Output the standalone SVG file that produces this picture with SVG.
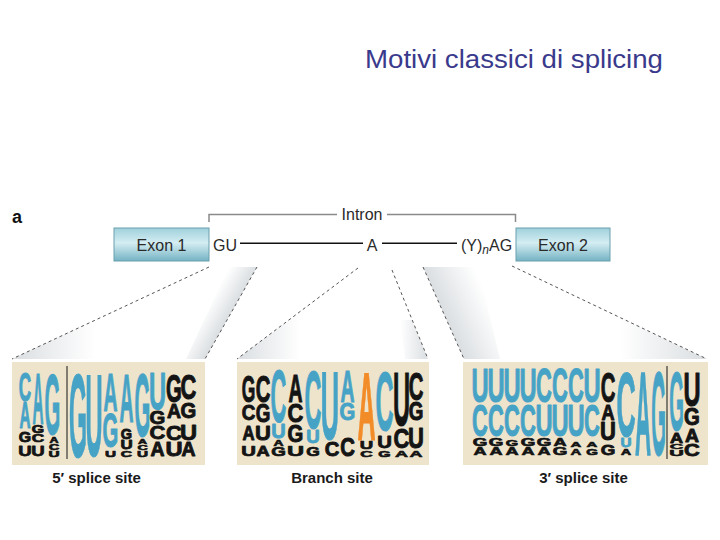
<svg xmlns="http://www.w3.org/2000/svg" width="720" height="540" viewBox="0 0 720 540">
<defs>
<style>
.lg text{font-family:"Liberation Sans",Arial,sans-serif;font-weight:bold;font-size:10px;text-anchor:middle;stroke-width:0.9;vector-effect:non-scaling-stroke;stroke-linejoin:round}
.b{fill:#47a3c6;stroke:#47a3c6}.k{fill:#141414;stroke:#141414}.o{fill:#f28c28;stroke:#f28c28}
.lbl{font-family:"Liberation Sans",Arial,sans-serif;font-size:16px;fill:#2a2a2a}
.cap{font-family:"Liberation Sans",Arial,sans-serif;font-weight:bold;font-size:15px;fill:#1a1a1a;text-anchor:middle}
.dash{stroke:#555;stroke-width:1;stroke-dasharray:3 3;fill:none}
.pane{fill:#eee4cc}
</style>
<linearGradient id="exg" x1="0" y1="0" x2="0" y2="1">
<stop offset="0" stop-color="#9fd0dc"/><stop offset="0.45" stop-color="#d4edf2"/><stop offset="1" stop-color="#74b3c3"/>
</linearGradient>
<linearGradient id="gR" x1="1" y1="0" x2="0" y2="0"><stop offset="0" stop-color="#dadee1"/><stop offset="1" stop-color="#dadee1" stop-opacity="0"/></linearGradient>
<linearGradient id="gL" x1="0" y1="0" x2="1" y2="0"><stop offset="0" stop-color="#dadee1"/><stop offset="1" stop-color="#dadee1" stop-opacity="0"/></linearGradient>
<linearGradient id="gS1" gradientUnits="userSpaceOnUse" x1="231" y1="313" x2="210" y2="301"><stop offset="0" stop-color="#dadee1"/><stop offset="1" stop-color="#dadee1" stop-opacity="0"/></linearGradient>
<linearGradient id="gS4" gradientUnits="userSpaceOnUse" x1="443" y1="313" x2="486" y2="294"><stop offset="0" stop-color="#dadee1"/><stop offset="1" stop-color="#dadee1" stop-opacity="0"/></linearGradient>
</defs>
<rect width="720" height="540" fill="#ffffff"/>

<g id="title"><text x="365" y="68" font-family="Liberation Sans, Arial, sans-serif" font-size="26" fill="#3a3a8c" textLength="298" lengthAdjust="spacingAndGlyphs">Motivi classici di splicing</text></g>

<g id="panel-label"><text x="12" y="223" font-family="Liberation Sans, Arial, sans-serif" font-weight="bold" font-size="18" fill="#111">a</text></g>

<g id="shading">
<polygon points="229,267 257,267 205,359 186,359" fill="url(#gS1)"/>
<polygon points="12,359 95,320 95,359" fill="url(#gL)"/>
<polygon points="237,359 300,312 300,359" fill="url(#gL)"/>
<polygon points="400,320 412,320 428,359 405,359" fill="url(#gR)"/>
<polygon points="423,267 478,267 500,359 464,359" fill="url(#gS4)"/>
<polygon points="620,318 707,359 620,359" fill="url(#gR)"/>
</g>

<g id="connectors">
<line class="dash" x1="209" y1="267" x2="12" y2="359"/>
<line class="dash" x1="257" y1="267" x2="205" y2="359"/>
<line class="dash" x1="358" y1="268" x2="237" y2="359"/>
<line class="dash" x1="392" y1="270" x2="428" y2="359"/>
<line class="dash" x1="423" y1="267" x2="464" y2="359"/>
<line class="dash" x1="512" y1="266" x2="707" y2="359"/>
<path d="M209,222 V214.5 H337 M387,214.5 H515.5 V222" fill="none" stroke="#8a8a8a" stroke-width="1.5"/>
<line x1="240" y1="243.3" x2="363" y2="243.3" stroke="#111" stroke-width="1.6"/>
<line x1="382" y1="243.3" x2="457" y2="243.3" stroke="#111" stroke-width="1.6"/>
</g>

<g id="exon1">
<rect x="114" y="228" width="95" height="33" fill="url(#exg)" stroke="#6a9fad" stroke-width="1"/>
<text class="lbl" x="161.5" y="251" text-anchor="middle">Exon 1</text>
</g>
<g id="intron">
<text class="lbl" x="362" y="220" text-anchor="middle">Intron</text>
<text class="lbl" x="225" y="251" text-anchor="middle">GU</text>
<text class="lbl" x="372" y="251" text-anchor="middle">A</text>
<text class="lbl" x="461" y="251">(Y)<tspan font-style="italic" font-size="12" dy="3">n</tspan><tspan dy="-3">AG</tspan></text>
</g>
<g id="exon2">
<rect x="516" y="228" width="94" height="33" fill="url(#exg)" stroke="#6a9fad" stroke-width="1"/>
<text class="lbl" x="563" y="251" text-anchor="middle">Exon 2</text>
</g>

<g id="logo-5ss" class="lg">
<rect class="pane" x="12" y="362" width="193" height="103"/>
<line x1="67" y1="366" x2="67" y2="459" stroke="#141414" stroke-width="1"/>
<text class="b" transform="translate(25 401) scale(1.72 4.03)">C</text>
<text class="b" transform="translate(25 428) scale(1.53 3.61)">A</text>
<text class="k" transform="translate(25 442) scale(1.59 1.53)">G</text>
<text class="k" transform="translate(25 456) scale(1.86 1.53)">U</text>
<text class="b" transform="translate(38 424) scale(1.53 7.22)">A</text>
<text class="k" transform="translate(38 433) scale(1.59 1.11)">G</text>
<text class="k" transform="translate(38 442) scale(1.72 1.11)">C</text>
<text class="k" transform="translate(38 456) scale(1.86 1.53)">U</text>
<text class="b" transform="translate(52.5 434) scale(2.03 8.61)">G</text>
<text class="k" transform="translate(54 443) scale(1.25 0.83)">A</text>
<text class="k" transform="translate(54 450) scale(1.41 0.83)">C</text>
<text class="k" transform="translate(54 457) scale(1.53 0.83)">U</text>
<text class="b" transform="translate(78 457) scale(2.32 11.8)">G</text>
<text class="b" transform="translate(94 456) scale(2.37 11.67)">U</text>
<text class="b" transform="translate(110.5 411) scale(1.94 5.42)">A</text>
<text class="b" transform="translate(110.5 447) scale(2.03 4.86)">G</text>
<text class="k" transform="translate(110.5 457) scale(1.53 0.97)">U</text>
<text class="b" transform="translate(126.5 422) scale(1.94 6.94)">A</text>
<text class="k" transform="translate(126.5 439) scale(1.45 1.53)">G</text>
<text class="k" transform="translate(126.5 449) scale(1.69 1.25)">U</text>
<text class="k" transform="translate(126.5 457) scale(1.56 0.97)">C</text>
<text class="b" transform="translate(142.5 436) scale(2.03 8.89)">G</text>
<text class="k" transform="translate(142.5 444) scale(1.25 0.69)">A</text>
<text class="k" transform="translate(142.5 450) scale(1.41 0.69)">C</text>
<text class="k" transform="translate(142.5 457) scale(1.53 0.83)">U</text>
<text class="b" transform="translate(157.5 409) scale(2.37 5.14)">U</text>
<text class="k" transform="translate(157.5 424) scale(2.03 1.81)">G</text>
<text class="k" transform="translate(157.5 439) scale(2.19 1.81)">C</text>
<text class="k" transform="translate(157.5 456) scale(1.94 1.94)">A</text>
<text class="k" transform="translate(174 402) scale(2.03 3.89)">G</text>
<text class="k" transform="translate(174 418) scale(1.94 1.94)">A</text>
<text class="k" transform="translate(174 440) scale(2.19 2.08)">C</text>
<text class="k" transform="translate(174 456) scale(2.37 1.94)">U</text>
<text class="k" transform="translate(188.5 399) scale(2.19 3.47)">C</text>
<text class="k" transform="translate(188.5 418) scale(2.03 2.22)">G</text>
<text class="k" transform="translate(188.5 440) scale(2.37 2.22)">U</text>
<text class="k" transform="translate(188.5 456) scale(1.94 1.94)">A</text>
</g>

<g id="logo-branch" class="lg">
<rect class="pane" x="237" y="362" width="192" height="103"/>
<text class="k" transform="translate(248.5 402) scale(1.74 3.75)">G</text>
<text class="k" transform="translate(248.5 420) scale(1.88 2.22)">C</text>
<text class="k" transform="translate(248.5 440) scale(1.67 2.08)">A</text>
<text class="k" transform="translate(248.5 456) scale(2.03 1.39)">U</text>
<text class="k" transform="translate(263 402) scale(2.03 3.75)">C</text>
<text class="k" transform="translate(263 422) scale(1.88 2.5)">G</text>
<text class="k" transform="translate(263 440) scale(2.2 2.08)">U</text>
<text class="k" transform="translate(263 456) scale(1.81 1.39)">A</text>
<text class="b" transform="translate(278.5 422) scale(2.19 7.36)">C</text>
<text class="b" transform="translate(278.5 438) scale(2.0 2.08)">U</text>
<text class="k" transform="translate(278.5 446) scale(1.39 0.83)">A</text>
<text class="k" transform="translate(278.5 456) scale(1.88 1.25)">G</text>
<text class="k" transform="translate(295.5 402) scale(1.94 3.89)">A</text>
<text class="k" transform="translate(295.5 422) scale(2.19 2.5)">C</text>
<text class="k" transform="translate(295.5 442) scale(2.03 2.36)">G</text>
<text class="k" transform="translate(295.5 456) scale(2.37 1.39)">U</text>
<text class="b" transform="translate(313 428) scale(2.34 8.19)">C</text>
<text class="b" transform="translate(313 443) scale(1.86 1.81)">U</text>
<text class="k" transform="translate(313 456) scale(1.74 1.25)">G</text>
<text class="b" transform="translate(330 439) scale(2.54 9.72)">U</text>
<text class="k" transform="translate(332 456) scale(2.03 2.08)">C</text>
<text class="b" transform="translate(347.5 402) scale(1.94 4.44)">A</text>
<text class="b" transform="translate(347.5 420) scale(2.03 2.36)">G</text>
<text class="k" transform="translate(347.5 456) scale(2.03 2.6)">C</text>
<text class="o" transform="translate(366.5 440) scale(2.5 9.72)">A</text>
<text class="k" transform="translate(366.5 449) scale(1.86 1.11)">U</text>
<text class="k" transform="translate(366.5 457) scale(1.72 0.97)">C</text>
<text class="b" transform="translate(384.5 430) scale(2.5 8.33)">C</text>
<text class="k" transform="translate(384.5 448) scale(2.03 1.67)">U</text>
<text class="k" transform="translate(384.5 457) scale(1.59 0.97)">G</text>
<text class="k" transform="translate(401.5 425) scale(2.37 7.64)">U</text>
<text class="k" transform="translate(401.5 448) scale(2.19 2.78)">C</text>
<text class="k" transform="translate(401.5 457) scale(1.81 0.97)">A</text>
<text class="k" transform="translate(416 400) scale(2.03 3.89)">C</text>
<text class="k" transform="translate(416 420) scale(1.88 2.5)">G</text>
<text class="k" transform="translate(416 448) scale(2.2 2.92)">U</text>
<text class="k" transform="translate(416 457) scale(1.81 0.97)">A</text>
</g>

<g id="logo-3ss" class="lg">
<rect class="pane" x="463" y="362" width="245" height="103"/>
<line x1="667" y1="366" x2="667" y2="459" stroke="#141414" stroke-width="1"/>
<text class="b" transform="translate(480 402) scale(2.37 4.72)">U</text>
<text class="b" transform="translate(480 436) scale(2.19 4.44)">C</text>
<text class="k" transform="translate(480 446) scale(1.88 1.11)">G</text>
<text class="k" transform="translate(480 455) scale(1.81 1.11)">A</text>
<text class="b" transform="translate(496 402) scale(2.37 4.72)">U</text>
<text class="b" transform="translate(496 436) scale(2.19 4.44)">C</text>
<text class="k" transform="translate(496 446) scale(1.88 1.0)">G</text>
<text class="k" transform="translate(496 455) scale(1.81 1.11)">A</text>
<text class="b" transform="translate(512 402) scale(2.37 4.72)">U</text>
<text class="b" transform="translate(512 436) scale(2.19 4.44)">C</text>
<text class="k" transform="translate(512 446) scale(1.6 0.83)">G</text>
<text class="k" transform="translate(512 455) scale(1.81 1.11)">A</text>
<text class="b" transform="translate(528 402) scale(2.37 4.72)">U</text>
<text class="b" transform="translate(528 436) scale(2.19 4.44)">C</text>
<text class="k" transform="translate(528 446) scale(1.88 1.11)">G</text>
<text class="k" transform="translate(528 455) scale(1.81 1.11)">A</text>
<text class="b" transform="translate(544 402) scale(2.19 4.72)">C</text>
<text class="b" transform="translate(544 436) scale(2.37 4.44)">U</text>
<text class="k" transform="translate(544 446) scale(1.88 1.11)">G</text>
<text class="k" transform="translate(544 455) scale(1.81 1.11)">A</text>
<text class="b" transform="translate(560 402) scale(2.19 4.72)">C</text>
<text class="b" transform="translate(560 436) scale(2.37 4.44)">U</text>
<text class="k" transform="translate(560 446) scale(1.81 1.0)">A</text>
<text class="k" transform="translate(560 455) scale(1.88 1.11)">G</text>
<text class="b" transform="translate(576 402) scale(2.19 4.72)">C</text>
<text class="b" transform="translate(576 436) scale(2.37 4.44)">U</text>
<text class="k" transform="translate(576 447) scale(1.5 0.8)">A</text>
<text class="k" transform="translate(576 455) scale(1.5 0.9)">A</text>
<text class="b" transform="translate(592 402) scale(2.37 4.72)">U</text>
<text class="b" transform="translate(592 436) scale(2.19 4.44)">C</text>
<text class="k" transform="translate(592 447) scale(1.5 0.8)">A</text>
<text class="k" transform="translate(592 455) scale(1.5 0.9)">G</text>
<text class="k" transform="translate(608 402) scale(2.03 4.17)">C</text>
<text class="k" transform="translate(608 420) scale(1.81 2.22)">A</text>
<text class="k" transform="translate(608 440) scale(2.2 2.5)">U</text>
<text class="k" transform="translate(608 455) scale(1.88 1.53)">G</text>
<text class="b" transform="translate(626 436) scale(2.66 9.17)">C</text>
<text class="b" transform="translate(626 447) scale(1.53 1.25)">U</text>
<text class="k" transform="translate(626 455) scale(1.39 0.97)">A</text>
<text class="b" transform="translate(643 455) scale(2.22 11.8)">A</text>
<text class="b" transform="translate(658.5 455) scale(1.88 11.8)">G</text>
<text class="b" transform="translate(676.5 430) scale(1.88 8.33)">G</text>
<text class="k" transform="translate(676.5 443) scale(1.81 1.53)">A</text>
<text class="k" transform="translate(676.5 449) scale(1.87 0.69)">C</text>
<text class="k" transform="translate(676.5 456) scale(2.03 0.83)">U</text>
<text class="k" transform="translate(692 406) scale(2.37 4.72)">U</text>
<text class="k" transform="translate(692 425) scale(2.03 2.36)">G</text>
<text class="k" transform="translate(692 442) scale(1.94 1.81)">A</text>
<text class="k" transform="translate(692 456) scale(2.19 1.67)">C</text>
</g>

<g id="captions">
<text class="cap" x="96.5" y="483">5′ splice site</text>
<text class="cap" x="332" y="483">Branch site</text>
<text class="cap" x="583.5" y="483">3′ splice site</text>
</g>
</svg>
